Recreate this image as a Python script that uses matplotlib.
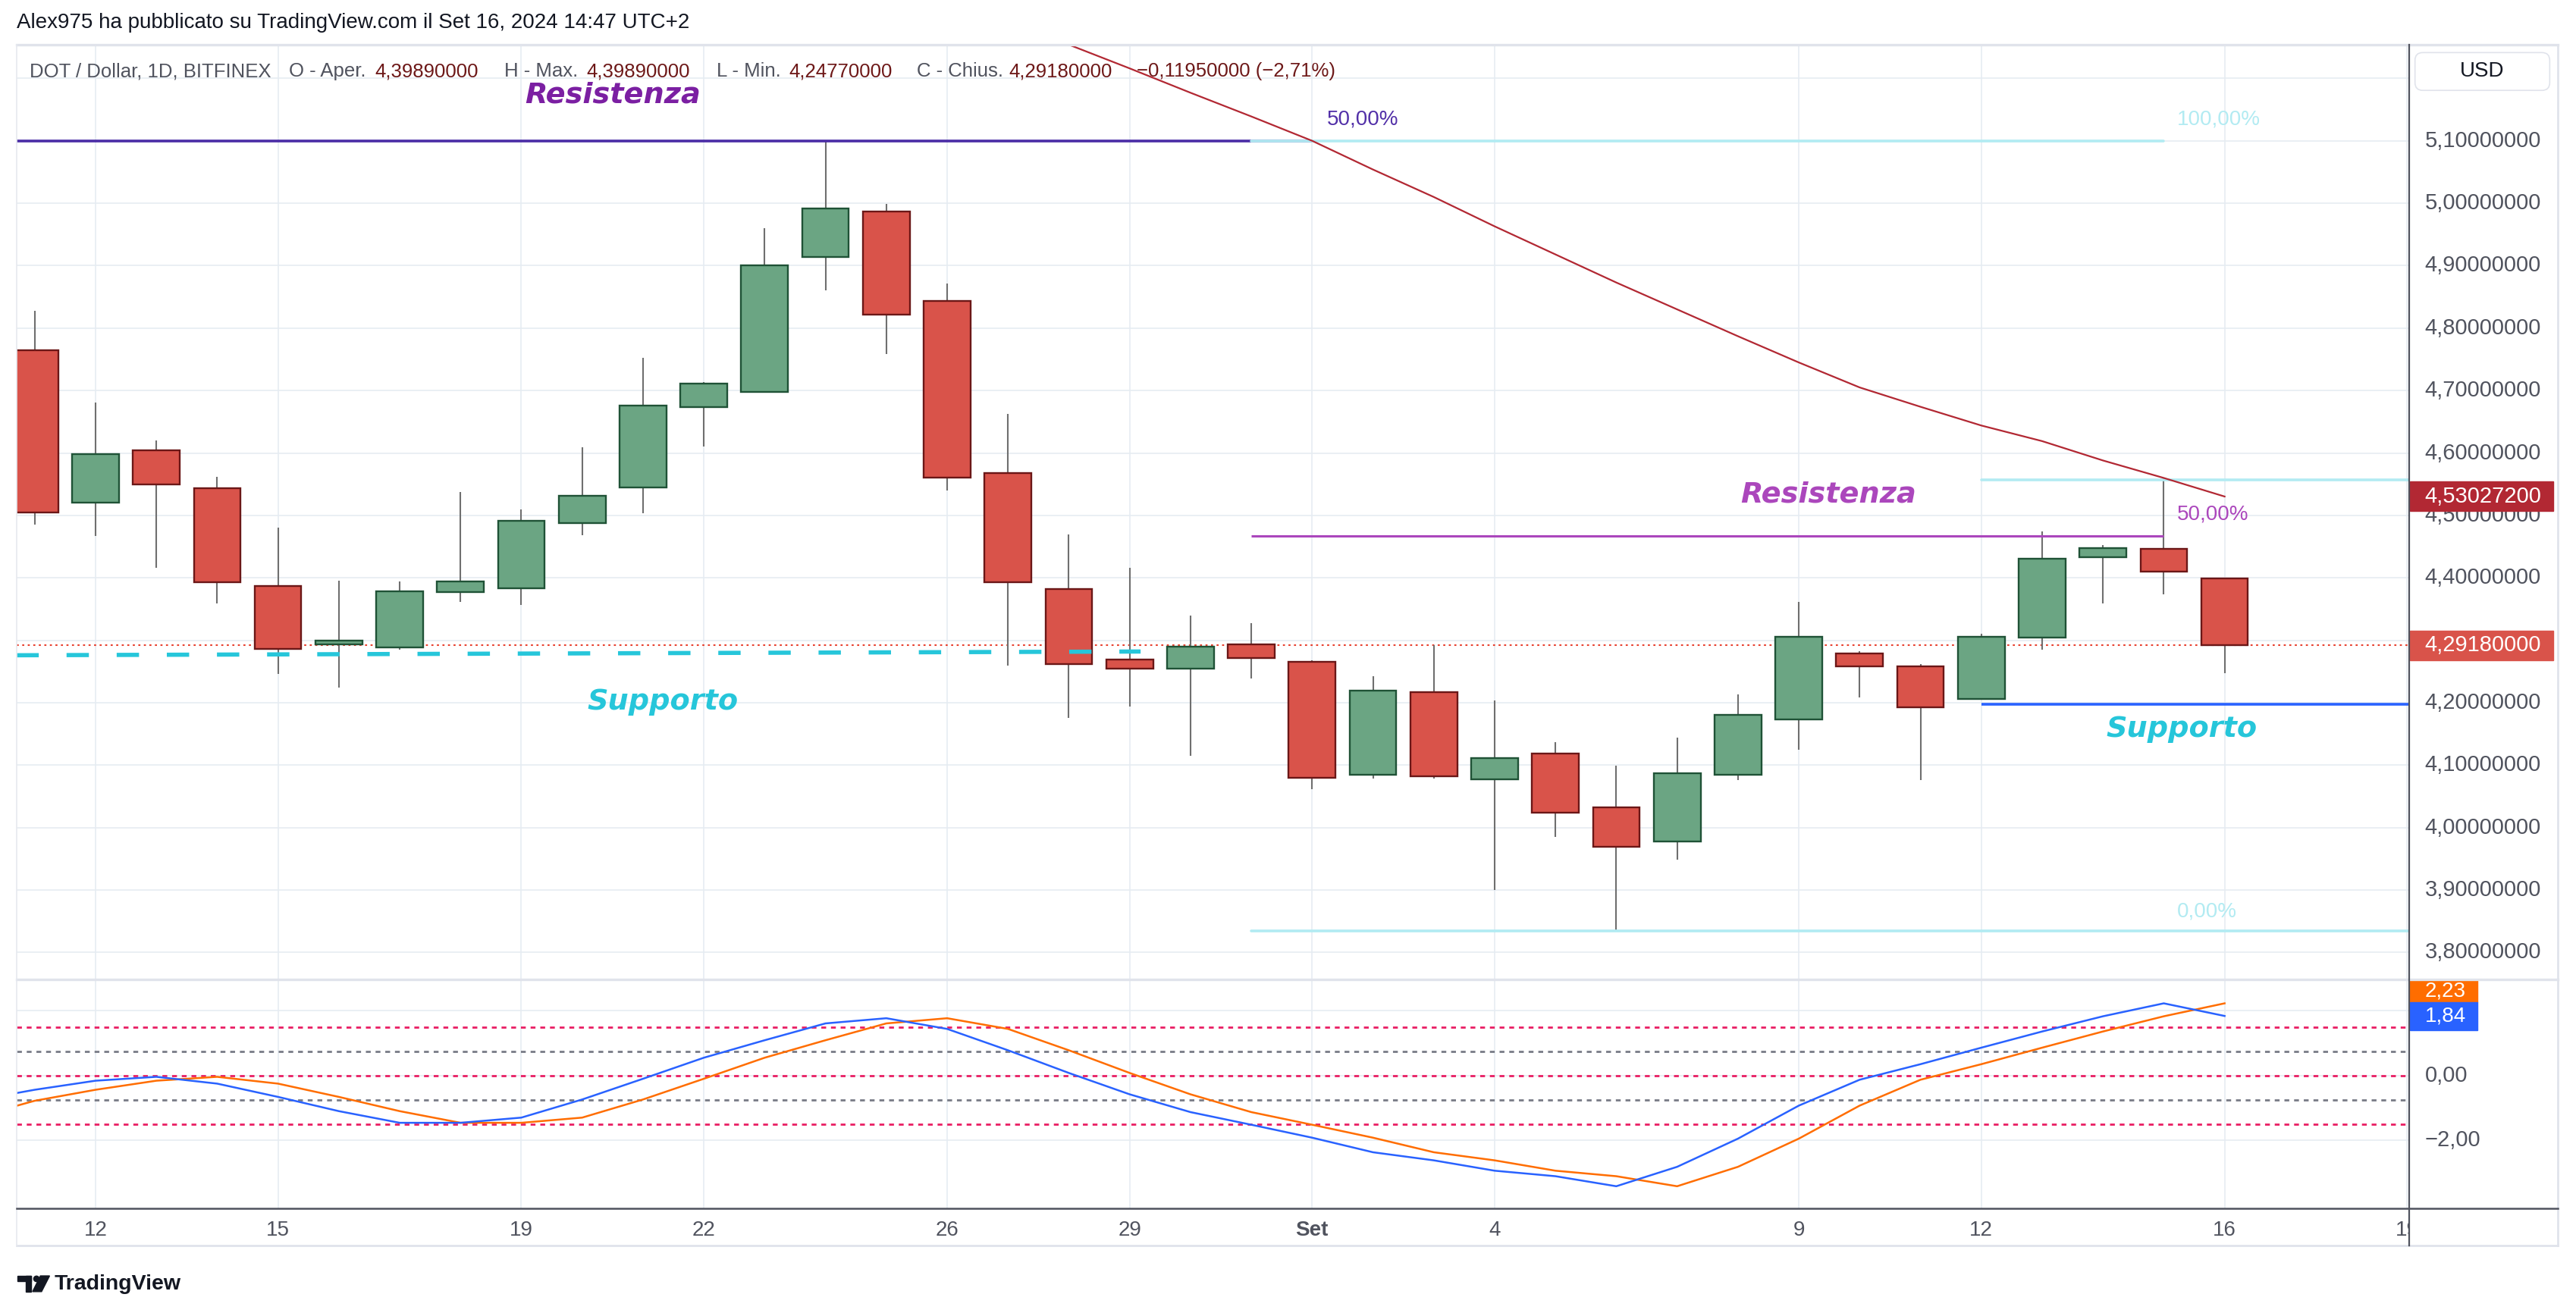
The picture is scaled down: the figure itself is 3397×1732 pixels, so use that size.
import numpy as np
import pandas as pd
import matplotlib
matplotlib.use("Agg")
import matplotlib.pyplot as plt
from matplotlib.lines import Line2D
from matplotlib.patches import Rectangle, FancyBboxPatch, Polygon, Ellipse

plt.rcParams['font.family'] = ['Liberation Sans', 'DejaVu Sans']

# ---- data ----
dates = pd.date_range("2024-08-11", "2024-09-16", freq="D")
opens = [4.765, 4.521, 4.604, 4.543, 4.387, 4.294, 4.288, 4.377, 4.383, 4.488,
         4.545, 4.674, 4.698, 4.914, 4.987, 4.844, 4.568, 4.382, 4.269, 4.255,
         4.294, 4.266, 4.084, 4.217, 4.077, 4.118, 4.033, 3.978, 4.084, 4.173,
         4.279, 4.258, 4.206, 4.304, 4.433, 4.446, 4.3989]
highs = [4.828, 4.681, 4.620, 4.562, 4.481, 4.395, 4.394, 4.537, 4.509, 4.609,
         4.753, 4.714, 4.960, 5.100, 4.999, 4.871, 4.663, 4.470, 4.416, 4.339,
         4.328, 4.268, 4.242, 4.292, 4.203, 4.137, 4.099, 4.144, 4.213, 4.361,
         4.282, 4.262, 4.310, 4.474, 4.453, 4.561, 4.3989]
lows = [4.485, 4.467, 4.416, 4.359, 4.246, 4.224, 4.285, 4.361, 4.357, 4.468,
        4.504, 4.610, 4.696, 4.861, 4.759, 4.540, 4.259, 4.176, 4.194, 4.115,
        4.239, 4.061, 4.079, 4.079, 3.900, 3.985, 3.835, 3.949, 4.076, 4.125,
        4.209, 4.076, 4.205, 4.285, 4.359, 4.373, 4.2477]
closes = [4.505, 4.598, 4.550, 4.393, 4.286, 4.300, 4.379, 4.394, 4.491, 4.531,
          4.676, 4.711, 4.900, 4.992, 4.822, 4.561, 4.393, 4.262, 4.255, 4.290,
          4.271, 4.080, 4.219, 4.082, 4.111, 4.024, 3.969, 4.087, 4.181, 4.306,
          4.258, 4.193, 4.305, 4.431, 4.448, 4.410, 4.2918]
prev_close = 4.4113
change_pct = -2.71

# moving average (red line), 27 Aug -> 16 Sep
ma_dates = pd.date_range("2024-08-27", "2024-09-16", freq="D")
ma_vals = [5.290, 5.254, 5.216, 5.177, 5.139, 5.100, 5.054, 5.010, 4.963, 4.918,
           4.873, 4.830, 4.787, 4.745, 4.705, 4.674, 4.644, 4.619, 4.588, 4.560,
           4.530272]

# Fisher transform, 9 Aug -> 16 Sep (trigger = previous fisher value)
fisher_dates = pd.date_range("2024-08-09", "2024-09-16", freq="D")
fisher = [-1.30, -0.78,
          -0.44, -0.16, -0.04, -0.25, -0.66, -1.10, -1.46, -1.46, -1.30, -0.74,
          -0.10, 0.55, 1.09, 1.61, 1.77, 1.44, 0.78, 0.08, -0.58, -1.13, -1.52,
          -1.92, -2.37, -2.62, -2.94, -3.11, -3.42, -2.82, -1.95, -0.93, -0.13,
          0.35, 0.86, 1.36, 1.83, 2.23, 1.84]
fisher_levels = [1.5, 0.75, 0.0, -0.75, -1.5]

tick_dates = ["2024-08-12", "2024-08-15", "2024-08-19", "2024-08-22", "2024-08-26",
              "2024-08-29", "2024-09-01", "2024-09-04", "2024-09-09", "2024-09-12",
              "2024-09-16", "2024-09-19"]
price_ticks = [3.8, 3.9, 4.0, 4.1, 4.2, 4.3, 4.4, 4.5, 4.6, 4.7, 4.8, 4.9, 5.0, 5.1]

# drawings
resist_top = 5.10
support_dash = (4.276, 4.282)
fib_low, fib_high = 3.835, 5.10
recent_high = 4.557
support_right = 4.197

# ---- layout helpers (reference grid 1568 x 799) ----
W, H = 1568, 799


def frect(l, t, r, b):
    return [l / W, 1 - b / H, (r - l) / W, (b - t) / H]


def fx(x):
    return x / W


def fy(y):
    return 1 - y / H


def pos(d):
    return (pd.Timestamp(d) - dates[0]).days


def fmt(v, nd):
    s = f"{v:.{nd}f}".replace('.', ',')
    return s.replace('-', '\u2212')


RED, RED_EDGE = "#d9534a", "#6b1717"
GREEN, GREEN_EDGE = "#6ba583", "#1f5236"
GRID = "#e6ecf2"
TXT = "#50535e"
AXCOL = "#50535e"

fig = plt.figure(figsize=(33.97, 17.32), dpi=100)
fig.patch.set_facecolor("white")

xl = (-0.30, 39.03)
ax = fig.add_axes(frect(10, 27.4, 1466.3, 596.2))
axi = fig.add_axes(frect(10, 596.2, 1466.3, 735.4))
axt = fig.add_axes(frect(10, 735.4, 1466.3, 758))

tick_pos = [pos(d) for d in tick_dates]
for a in (ax, axi, axt):
    a.set_xlim(*xl)
    a.set_facecolor("white")
    for s in a.spines.values():
        s.set_visible(False)
    a.tick_params(length=0, labelbottom=False, labelleft=False)
    a.set_xticks(tick_pos)
axt.set_xticks([])
axt.set_yticks([])
axt.set_ylim(0, 1)

# ---- price pane ----
ax.set_ylim(3.7563, 5.2534)
ax.set_yticks(price_ticks + [5.2])
ax.grid(True, color=GRID, lw=1.2, zorder=0)

x = np.arange(len(dates))
o, h, l, c = map(np.array, (opens, highs, lows, closes))
up = c >= o
ax.vlines(x, l, h, color="#6f6f6f", lw=1.5, zorder=3)
body = np.maximum(np.abs(c - o), 0.003)
ax.bar(x, body, bottom=np.minimum(o, c), width=0.77,
       color=np.where(up, GREEN, RED), edgecolor=np.where(up, GREEN_EDGE, RED_EDGE),
       linewidth=1.7, zorder=4)

# moving average
ma_x = [pos(d) for d in ma_dates]
ax.plot(ma_x, ma_vals, color="#b22833", lw=1.6, zorder=6)

# current price dotted line
ax.axhline(closes[-1], color="#e8412f", lw=1.5, dashes=(1.3, 2.2), zorder=2)

# resistance (left, indigo)
ax.plot([xl[0], pos("2024-09-01")], [resist_top, resist_top], color="#4a2ca6",
        lw=2.6, zorder=5, solid_capstyle="butt")
ax.text(pos("2024-09-01") + 0.24, resist_top + 0.034, "50,00%", color="#5230a8",
        fontsize=20, va="center", ha="left", zorder=7)

# support dashed cyan
ax.plot([xl[0], 18.18], list(support_dash), color="#26c6da", lw=4,
        dashes=(5.3, 6.6), zorder=5)

# fibonacci levels
f0, f1 = pos("2024-08-31"), pos("2024-09-15")
fib_mid = (fib_low + fib_high) / 2
ax.plot([f0, f1], [fib_high, fib_high], color="#b2ebf2", lw=2.6, zorder=5,
        solid_capstyle="round")
ax.plot([f0, xl[1]], [fib_low, fib_low], color="#b2ebf2", lw=2.6, zorder=5,
        solid_capstyle="round")
ax.plot([f0, f1], [fib_mid, fib_mid], color="#ab47bc", lw=2.2, zorder=5,
        solid_capstyle="butt")
lab_x = f1 + 0.22
ax.text(lab_x, fib_high + 0.034, "100,00%", color="#b2ebf2", fontsize=20,
        va="center", ha="left", zorder=7)
ax.text(lab_x, fib_mid + 0.034, "50,00%", color="#ab47bc", fontsize=20,
        va="center", ha="left", zorder=7)
ax.text(lab_x, fib_low + 0.031, "0,00%", color="#b2ebf2", fontsize=20,
        va="center", ha="left", zorder=7)

# recent high / right support
ax.plot([pos("2024-09-12"), xl[1]], [recent_high, recent_high], color="#b2ebf2",
        lw=2.6, zorder=5, solid_capstyle="round")
ax.plot([pos("2024-09-12"), xl[1]], [support_right, support_right], color="#2962ff",
        lw=2.6, zorder=5, solid_capstyle="butt")

lab_kw = dict(fontsize=27.5, fontweight="bold", fontstyle="italic",
              family=["DejaVu Sans"], ha="center", va="center", zorder=8)
ax.text(9.50, 5.173, "Resistenza", color="#7b1fa2", **lab_kw)
ax.text(10.32, 4.2016, "Supporto", color="#26c6da", **lab_kw)
ax.text(29.49, 4.533, "Resistenza", color="#ab47bc", **lab_kw)
ax.text(35.29, 4.158, "Supporto", color="#26c6da", **lab_kw)

# price axis labels (the ones under a value box are hidden, as on the chart)
ytr = ax.get_yaxis_transform()
lx = (1476 - 10) / 1456.3
boxes = [(ma_vals[-1], "#b22833"), (closes[-1], RED)]
for v in price_ticks:
    if any(abs(v - b) < 0.02 for b, _ in boxes):
        continue
    ax.text(lx, v, fmt(v, 8), transform=ytr, fontsize=21, color=TXT,
            va="center", ha="left", clip_on=False, zorder=2)
bw = (1554 - 1467) / 1456.3
bh = 18 / 379.95
for val, col in boxes:
    ax.add_patch(Rectangle((1.0005, val - bh / 2), bw, bh, transform=ytr,
                           color=col, clip_on=False, zorder=9))
    ax.text(lx, val, fmt(val, 8), transform=ytr, fontsize=21, color="white",
            va="center", ha="left", clip_on=False, zorder=10)

# header inside pane
hx = [18, 176, 228, 307, 357, 436, 480, 558, 614, 692]
hparts = ["DOT / Dollar, 1D, BITFINEX", "O - Aper.", fmt(opens[-1], 8), "H - Max.",
          fmt(highs[-1], 8), "L - Min.", fmt(lows[-1], 8), "C - Chius.",
          fmt(closes[-1], 8),
          fmt(closes[-1] - prev_close, 8) + " (" + fmt(change_pct, 2) + "%)"]
for i, (px, t) in enumerate(zip(hx, hparts)):
    col = TXT if i in (0, 1, 3, 5, 7) else "#6d1818"
    fig.text(fx(px), fy(43.5), t, fontsize=18.5, color=col, va="center", ha="left")

# ---- fisher pane ----
axi.set_ylim(-4.107, 2.959)
axi.set_yticks([2.0, 0.0, -2.0])
axi.grid(True, color=GRID, lw=1.2, zorder=0)
for lev in fisher_levels:
    col = "#e91e63" if lev in (1.5, 0.0, -1.5) else "#787b86"
    axi.axhline(lev, color=col, lw=2.0, dashes=(2.3, 2.3), zorder=2)
fx_pos = [pos(d) for d in fisher_dates]
axi.plot(fx_pos, fisher, color="#2962ff", lw=1.8, zorder=4)
axi.plot(fx_pos[1:], fisher[:-1], color="#ff6d00", lw=1.8, zorder=3)

ytri = axi.get_yaxis_transform()
for v in (0.0, -2.0):
    axi.text(lx, v, fmt(v, 2), transform=ytri, fontsize=21, color=TXT,
             va="center", ha="left", clip_on=False)
bw2 = (1508 - 1467) / 1456.3
axi.add_patch(Rectangle((1.0005, 2.26), bw2, 2.959 - 2.26, transform=ytri,
                        color="#ff6d00", clip_on=False, zorder=9))
axi.add_patch(Rectangle((1.0005, 1.40), bw2, 0.86, transform=ytri,
                        color="#2962ff", clip_on=False, zorder=9))
axi.text(lx, 2.60, fmt(fisher[-2], 2), transform=ytri, fontsize=20, color="white",
         va="center", ha="left", clip_on=False, zorder=10)
axi.text(lx, 1.83, fmt(fisher[-1], 2), transform=ytri, fontsize=20, color="white",
         va="center", ha="left", clip_on=False, zorder=10)

# ---- time labels ----
for d, p in zip(tick_dates, tick_pos):
    ts = pd.Timestamp(d)
    lab = "Set" if ts.day == 1 and ts.month == 9 else str(ts.day)
    axt.text(p, 0.42, lab, fontsize=20, color=TXT, ha="center", va="center",
             fontweight="bold" if lab == "Set" else "normal", clip_on=True)

# ---- frame lines ----
def fline(x0, y0, x1, y1, col, lw):
    fig.add_artist(Line2D([fx(x0), fx(x1)], [fy(y0), fy(y1)], color=col, lw=lw))


fline(10, 27.4, 1557, 27.4, "#e0e3eb", 2.4)
fline(10, 596.2, 1557, 596.2, "#e0e3eb", 2.4)
fline(10, 758, 1557, 758, "#e0e3eb", 2.0)
fline(10, 27.4, 10, 758, "#e6e9ef", 1.2)
fline(1557, 27.4, 1557, 758, "#e0e3eb", 2.0)
fline(10, 735.4, 1557, 735.4, AXCOL, 1.8)
fline(1466.3, 27.4, 1466.3, 758, AXCOL, 1.6)

# USD box
fig.add_artist(FancyBboxPatch((fx(1470), fy(55)), fx(1552) - fx(1470), fy(32) - fy(55),
                              boxstyle="round,pad=0,rounding_size=0.003",
                              mutation_aspect=3397 / 1732, fc="white",
                              ec="#e0e3eb", lw=1.2, transform=fig.transFigure))
fig.text(fx(1511), fy(43.5), "USD", fontsize=20, color="#131722", ha="center",
         va="center")

# top line
fig.text(fx(10), fy(14), "Alex975 ha pubblicato su TradingView.com il Set 16, 2024 14:47 UTC+2",
         fontsize=20, color="#131722", ha="left", va="center")

# TradingView logo
fig.add_artist(Rectangle((fx(10.6), fy(779.6)), fx(19) - fx(10.6), fy(776.4) - fy(779.6),
                         color="#131722", transform=fig.transFigure))
fig.add_artist(Rectangle((fx(15.5), fy(786)), fx(19) - fx(15.5), fy(776.4) - fy(786),
                         color="#131722", transform=fig.transFigure))
fig.add_artist(Ellipse((fx(22.2), fy(778.2)), 3.4 / W, 3.4 / H, color="#131722",
                       transform=fig.transFigure))
fig.add_artist(Polygon([(fx(24.6), fy(776.4)), (fx(30.2), fy(776.4)),
                        (fx(25.3), fy(786)), (fx(19.8), fy(786))],
                       closed=True, color="#131722", transform=fig.transFigure))
fig.text(fx(33), fy(781.5), "TradingView", fontsize=20.5, fontweight="bold",
         color="#131722", ha="left", va="center")

fig.savefig("out.png", dpi=100, facecolor="white")
